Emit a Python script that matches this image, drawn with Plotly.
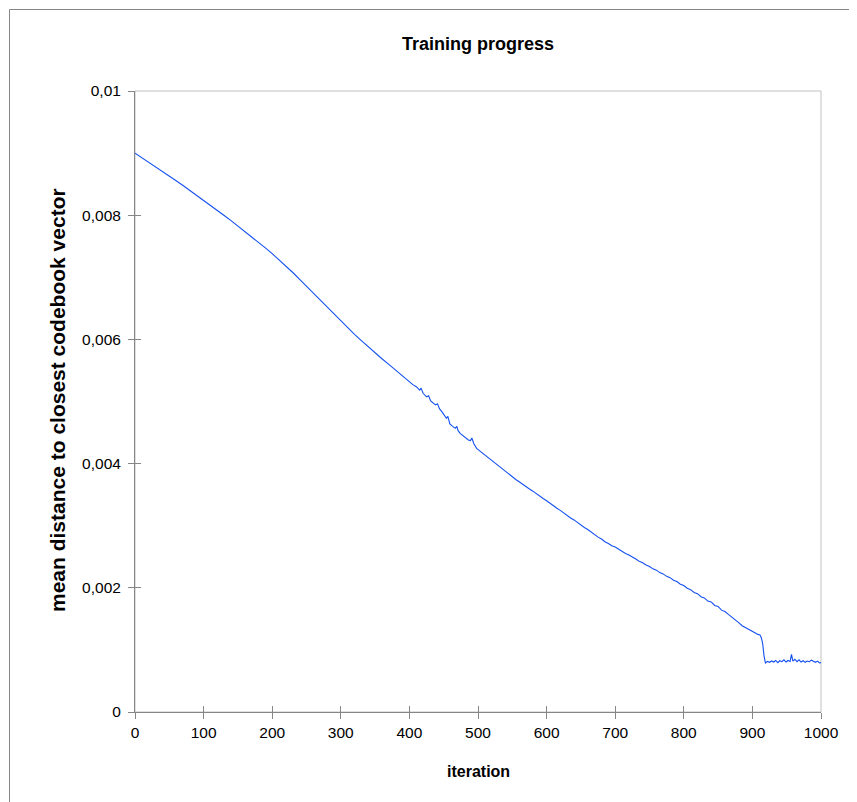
import plotly.graph_objects as go

# ---- data ----
iterations = [
    0, 10, 20, 30, 40, 50, 60, 70, 80, 90, 100, 110, 120, 130, 140, 150, 160, 170, 180, 190,
    200, 210, 220, 230, 240, 250, 260, 270, 280, 290, 300, 310, 320, 330, 340, 350, 360, 370, 380, 390,
    400, 405, 410, 415, 417, 420, 425, 428, 431, 435, 438, 441, 444, 447, 450, 454, 456, 459, 463, 467,
    469, 471, 474, 478, 482, 486, 489, 491, 494, 498, 502, 505, 510, 515, 520, 525, 530, 535, 540, 545,
    550, 556, 560, 565, 570, 575, 580, 585, 590, 595, 600, 605, 610, 615, 620, 625, 630, 635, 640, 645,
    650, 655, 660, 665, 670, 675, 680, 685, 690, 695, 700, 705, 710, 715, 720, 725, 730, 735, 740, 745,
    750, 755, 760, 765, 770, 775, 780, 785, 790, 795, 800, 805, 810, 815, 820, 825, 830, 835, 840, 845,
    850, 855, 860, 865, 870, 875, 880, 885, 890, 895, 900, 905, 908, 911, 913, 915, 917, 919, 922, 925,
    928, 931, 934, 937, 940, 943, 946, 949, 952, 955, 957, 959, 962, 965, 968, 971, 974, 977, 980, 983,
    986, 989, 992, 995, 998, 1000,
]
mean_distance = [
    0.009000, 0.008928, 0.008855, 0.008781, 0.008707, 0.008632, 0.008556, 0.008479, 0.008401, 0.008322,
    0.008242, 0.008161, 0.008079, 0.007996, 0.007912, 0.007827, 0.007740, 0.007652, 0.007563, 0.007473,
    0.007380, 0.007283, 0.007182, 0.007077, 0.006968, 0.006857, 0.006744, 0.006631, 0.006518, 0.006406,
    0.006296, 0.006190, 0.006080, 0.005981, 0.005878, 0.005786, 0.005688, 0.005599, 0.005502, 0.005413,
    0.005318, 0.005272, 0.005238, 0.005182, 0.005215, 0.005132, 0.005075, 0.005092, 0.005010, 0.004975,
    0.004945, 0.004962, 0.004880, 0.004840, 0.004790, 0.004730, 0.004762, 0.004640, 0.004600, 0.004570,
    0.004602, 0.004530, 0.004486, 0.004450, 0.004420, 0.004380, 0.004370, 0.004412, 0.004320, 0.004246,
    0.004210, 0.004183, 0.004142, 0.004093, 0.004052, 0.004003, 0.003967, 0.003918, 0.003880, 0.003833,
    0.003792, 0.003736, 0.003708, 0.003665, 0.003632, 0.003590, 0.003556, 0.003513, 0.003480, 0.003437,
    0.003402, 0.003359, 0.003324, 0.003280, 0.003247, 0.003202, 0.003169, 0.003124, 0.003093, 0.003049,
    0.003016, 0.002971, 0.002938, 0.002893, 0.002861, 0.002816, 0.002785, 0.002741, 0.002713, 0.002677,
    0.002658, 0.002621, 0.002593, 0.002553, 0.002528, 0.002489, 0.002464, 0.002426, 0.002403, 0.002366,
    0.002344, 0.002305, 0.002284, 0.002245, 0.002224, 0.002184, 0.002164, 0.002122, 0.002101, 0.002058,
    0.002036, 0.001992, 0.001970, 0.001925, 0.001905, 0.001856, 0.001838, 0.001786, 0.001772, 0.001716,
    0.001700, 0.001640, 0.001618, 0.001572, 0.001532, 0.001478, 0.001440, 0.001390, 0.001356, 0.001322,
    0.001302, 0.001268, 0.001250, 0.001242, 0.001195, 0.001100, 0.000900, 0.000790, 0.000815, 0.000800,
    0.000822, 0.000805, 0.000830, 0.000795, 0.000825, 0.000810, 0.000840, 0.000805, 0.000830, 0.000815,
    0.000930, 0.000820, 0.000850, 0.000810, 0.000840, 0.000805, 0.000825, 0.000800, 0.000820, 0.000810,
    0.000835, 0.000815, 0.000800, 0.000820, 0.000790, 0.000795,
]

x_tick_vals = [0, 100, 200, 300, 400, 500, 600, 700, 800, 900, 1000]
x_tick_text = ["0", "100", "200", "300", "400", "500", "600", "700", "800", "900", "1000"]
y_tick_vals = [0, 0.002, 0.004, 0.006, 0.008, 0.01]
y_tick_text = ["0", "0,002", "0,004", "0,006", "0,008", "0,01"]

title_text = "Training progress"
x_title = "iteration"
y_title = "mean distance to closest codebook vector"

AXIS = "#868686"
FONT = "Liberation Sans, Arial, sans-serif"
OFF = 8  # page body margin offset

# plot area in page pixels: x 135..821, y 91..712
L, R, T, B = 135, 821, 91, 712
PW, PH = R - L, B - T

fig = go.Figure()
fig.add_trace(go.Scatter(
    x=iterations, y=mean_distance, mode="lines",
    line=dict(color="#1450F0", width=1.1), showlegend=False, hoverinfo="x+y",
))
# empty trace to activate the overlay axes (used for crossing tick marks)
fig.add_trace(go.Scatter(x=[], y=[], xaxis="x2", yaxis="y2", showlegend=False))

common_x = dict(range=[0, 1000], tickvals=x_tick_vals, showgrid=False, zeroline=False,
                tickcolor=AXIS, ticklen=6, tickwidth=1)
common_y = dict(range=[0, 0.01], tickvals=y_tick_vals, showgrid=False, zeroline=False,
                tickcolor=AXIS, ticklen=6, tickwidth=1)

fig.update_layout(
    width=857, height=802,
    margin=dict(l=L - OFF, r=857 - (R - OFF), t=T - OFF, b=802 - (B - OFF)),
    paper_bgcolor="white", plot_bgcolor="white",
    font=dict(family=FONT, color="black", size=15),
    title=dict(text="<b>" + title_text + "</b>", x=0.5, xref="paper", xanchor="center",
               y=1 - (44 - OFF) / 802, yref="container", yanchor="middle",
               font=dict(size=18, family=FONT, color="black")),
    xaxis=dict(**common_x, ticktext=x_tick_text, ticks="outside", showline=True,
               linecolor=AXIS, linewidth=1, tickfont=dict(size=15.5)),
    yaxis=dict(**common_y, ticktext=y_tick_text, ticks="outside", showline=True,
               linecolor=AXIS, linewidth=1, tickfont=dict(size=15.5), ticklabelstandoff=4),
    xaxis2=dict(**common_x, overlaying="x", anchor="y", side="bottom", ticks="inside",
                showticklabels=False, showline=False),
    yaxis2=dict(**common_y, overlaying="y", anchor="x", side="left", ticks="inside",
                showticklabels=False, showline=False),
    shapes=[
        dict(type="rect", xref="paper", yref="paper", x0=0, x1=1, y0=0, y1=1,
             line=dict(color="#C0C0C0", width=1), layer="below"),
        # outer chart border: only top and left edges are inside the picture
        dict(type="line", xref="paper", yref="paper",
             x0=(9.5 - L) / PW, x1=(900 - L) / PW, y0=(B - 9.5) / PH, y1=(B - 9.5) / PH,
             line=dict(color=AXIS, width=1), layer="below"),
        dict(type="line", xref="paper", yref="paper",
             x0=(9.5 - L) / PW, x1=(9.5 - L) / PW, y0=(B - 9.5) / PH, y1=(B - 860) / PH,
             line=dict(color=AXIS, width=1), layer="below"),
    ],
    annotations=[
        dict(text="<b>" + x_title + "</b>", xref="paper", yref="paper", x=0.5,
             y=(B - 771) / PH, xanchor="center", yanchor="middle", showarrow=False,
             font=dict(size=16, family=FONT, color="black")),
        dict(text="<b>" + y_title + "</b>", xref="paper", yref="paper",
             x=(57 - L) / PW, y=(B - 400) / PH, xanchor="center", yanchor="middle",
             textangle=-90, showarrow=False,
             font=dict(size=21, family=FONT, color="black")),
    ],
)

fig.write_html("out.html")
